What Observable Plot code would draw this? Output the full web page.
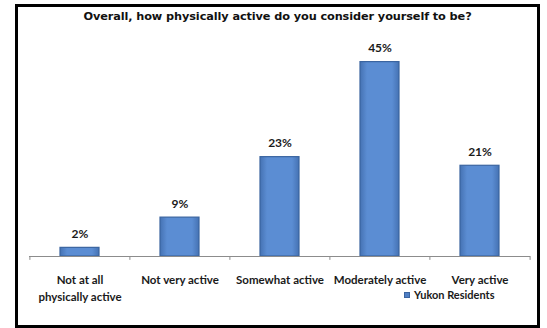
<!DOCTYPE html>
<html>
<head>
<meta charset="utf-8">
<script src="https://cdn.jsdelivr.net/npm/d3@7"></script>
<script src="https://cdn.jsdelivr.net/npm/@observablehq/plot@0.6"></script>
<style>
  html, body { margin: 0; padding: 0; background: #fff; }
  #wrap { position: relative; width: 547px; height: 328px; overflow: hidden; background: #fff; }
  #frame { position: absolute; left: 15px; top: 4px; width: 525px; height: 324px; box-sizing: border-box;
           border: 3px solid #000; }
  #title { position: absolute; left: 15px; width: 525px; top: 10px; text-align: center;
           font: bold 11.3px "DejaVu Sans", Verdana, sans-serif; color: #111; letter-spacing: -0.1px; }
  #chart { position: absolute; left: 0; top: 28px; }
  #legend { position: absolute; left: 404px; top: 288px; font: bold 11px Lato, sans-serif; color: #1a1a1a;
            display: flex; align-items: center; gap: 4px; }
  #legend .sw { width: 6px; height: 6px; background: #4f7fc4; border: 1px solid #3a64a0; box-sizing: border-box; }
</style>
</head>
<body>
<div id="wrap">
  <div id="frame"></div>
  <div id="title">Overall, how physically active do you consider yourself to be?</div>
  <div id="chart"></div>
  <div id="legend"><span class="sw"></span><span id="legendLabel"></span></div>
</div>
<script>
const categories = ["Not at all\nphysically active", "Not very active", "Somewhat active", "Moderately active", "Very active"];
const values = [2, 9, 23, 45, 21];
const seriesName = "Yukon Residents";

const data = categories.map((c, i) => ({category: c, value: values[i]}));
document.getElementById("legendLabel").textContent = seriesName;

const chart = Plot.plot({
  width: 547,
  height: 300,
  marginLeft: 29,
  marginRight: 17,
  marginTop: 12,
  marginBottom: 72,
  style: {fontFamily: "Lato, sans-serif", background: "transparent", overflow: "visible"},
  x: {domain: categories, paddingInner: 0.61, paddingOuter: 0.305, label: null},
  y: {domain: [0, 50], axis: null},
  marks: [
    Plot.barY(data, {x: "category", y: "value", fill: "url(#barGrad)", stroke: "#3a64a0", strokeWidth: 1.2}),
    Plot.ruleY([0], {stroke: "#8c8c8c", strokeWidth: 1}),
    Plot.ruleX(categories, {x: d => d, dx: -50.1, y1: 0, y2: -0.9, stroke: "#8c8c8c"}),
    Plot.ruleX([categories[categories.length - 1]], {x: d => d, dx: 50.1, y1: 0, y2: -0.9, stroke: "#8c8c8c"}),
    Plot.text(data, {x: "category", y: "value", text: d => d.value + "%", dy: -10, lineAnchor: "bottom",
                     fontSize: 12, fontWeight: "bold", fill: "#1a1a1a"}),
    Plot.axisX({tickSize: 0, tickPadding: 16, fontSize: 11.5, fontWeight: "bold", fill: "#1a1a1a", lineHeight: 1.45, label: null})
  ]
});

const ns = "http://www.w3.org/2000/svg";
const defs = document.createElementNS(ns, "defs");
defs.innerHTML = `<linearGradient id="barGrad" x1="0" x2="1" y1="0" y2="0">
  <stop offset="0" stop-color="#4572b3"/>
  <stop offset="0.18" stop-color="#5b8dd3"/>
  <stop offset="0.82" stop-color="#5b8dd3"/>
  <stop offset="1" stop-color="#4572b3"/>
</linearGradient>`;
chart.insertBefore(defs, chart.firstChild);
document.getElementById("chart").appendChild(chart);
</script>
</body>
</html>
